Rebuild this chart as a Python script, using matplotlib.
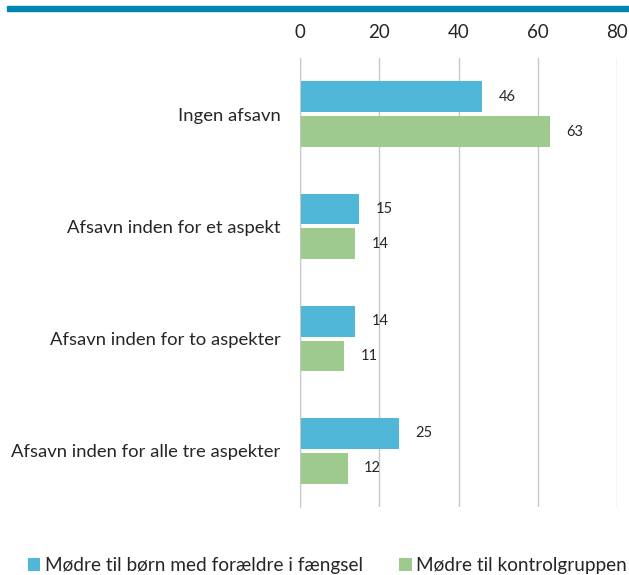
import matplotlib
matplotlib.use("Agg")
import matplotlib.pyplot as plt
import numpy as np
from matplotlib.patches import Rectangle

plt.rcParams['font.family'] = ['Lato', 'DejaVu Sans']

categories = ["Ingen afsavn", "Afsavn inden for et aspekt",
              "Afsavn inden for to aspekter", "Afsavn inden for alle tre aspekter"]
series_names = ["Mødre til børn med forældre i fængsel", "Mødre til kontrolgruppen"]
prison_vals = [46, 15, 14, 25]
control_vals = [63, 14, 11, 12]
xticks = [0, 20, 40, 60, 80]

blue = '#4bb5d7'
green = '#9bc98a'
textc = '#262626'

fig = plt.figure(figsize=(6.29, 5.75), dpi=100)
ax = fig.add_axes([300/629, 1-507/575, 317/629, 449/575])

y = np.arange(len(categories))
h = 0.275
off = 0.155
ax.barh(y - off, prison_vals, height=h, color=blue, alpha=0.97, zorder=2,
        label=series_names[0])
ax.barh(y + off, control_vals, height=h, color=green, alpha=0.97, zorder=2,
        label=series_names[1])

for yi, v in zip(y - off, prison_vals):
    ax.annotate(str(v), (v, yi), xytext=(12, 0), textcoords='offset points',
                va='center', ha='left', fontsize=10.5, color=textc)
for yi, v in zip(y + off, control_vals):
    ax.annotate(str(v), (v, yi), xytext=(12, 0), textcoords='offset points',
                va='center', ha='left', fontsize=10.5, color=textc)

ax.set_xlim(0, 80)
ax.set_ylim(len(categories) - 0.5, -0.5)
ax.set_yticks(y)
ax.set_yticklabels(categories, fontsize=13.3, color=textc)
ax.set_xticks(xticks)
ax.set_xticklabels([str(t) for t in xticks], fontsize=13.5, color=textc)
ax.xaxis.tick_top()
ax.tick_params(axis='x', length=0, pad=12)
ax.tick_params(axis='y', length=0, pad=14)
ax.grid(axis='x', color='#c8c8c8', linewidth=1, zorder=0)
ax.set_axisbelow(True)
for s in ax.spines.values():
    s.set_visible(False)
ax.spines['left'].set_visible(True)
ax.spines['left'].set_color('#c8c8c8')

# top decorative band
fig.patches.append(Rectangle((7/629, 1-11/575), 622/629, 5/575,
                             transform=fig.transFigure, color='#0087b0',
                             figure=fig))

leg = fig.legend(loc='center left', bbox_to_anchor=(28/629, 1-566/575), ncol=2,
                 frameon=False, fontsize=13.7, handlelength=0.65, handleheight=0.65,
                 handletextpad=0.25, columnspacing=1.9, labelcolor=textc,
                 borderpad=0, borderaxespad=0)

fig.savefig('out.png', dpi=100)
